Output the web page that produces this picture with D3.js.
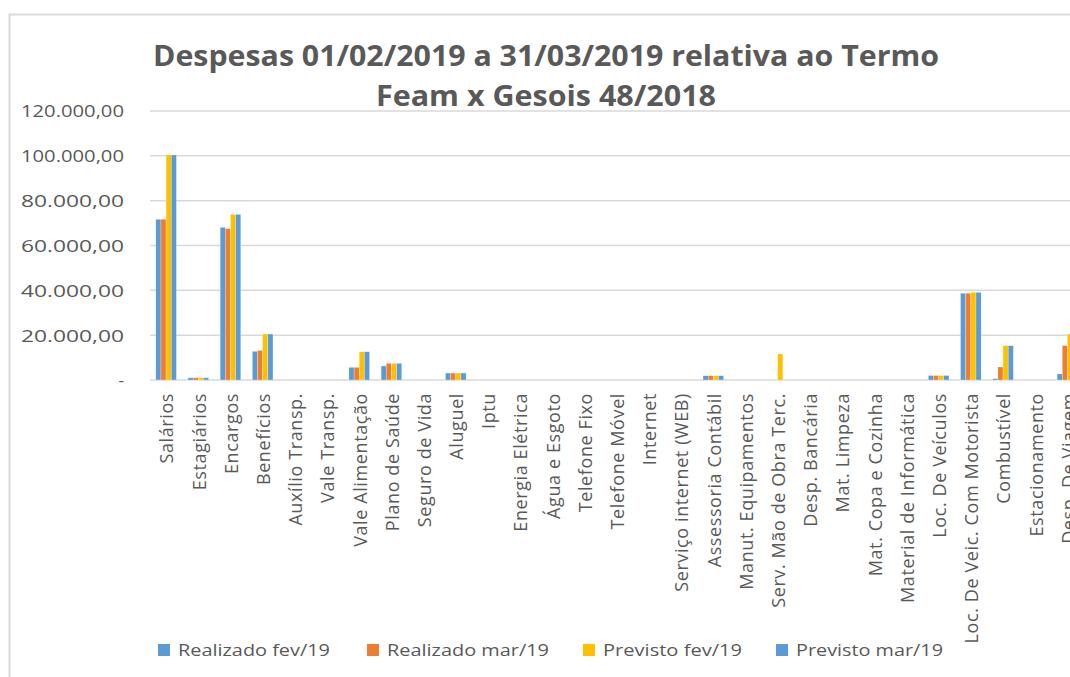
<!DOCTYPE html>
<html>
<head>
<meta charset="utf-8">
<script src="https://cdn.jsdelivr.net/npm/d3@7"></script>
<style>
  html, body { margin: 0; padding: 0; background: #fff; overflow: hidden; }
  svg { display: block; }
  text { font-family: "Open Sans", "Noto Sans", sans-serif; }
</style>
</head>
<body>
<svg id="chart" width="1070" height="677"></svg>
<script>
const titleLines = ["Despesas 01/02/2019 a 31/03/2019 relativa ao Termo", "Feam x Gesois 48/2018"];

const categories = [
  "Salários", "Estagiários", "Encargos", "Benefícios", "Auxílio Transp.", "Vale Transp.",
  "Vale Alimentação", "Plano de Saúde", "Seguro de Vida", "Aluguel", "Iptu", "Energia Elétrica",
  "Água e Esgoto", "Telefone Fixo", "Telefone Móvel", "Internet", "Serviço internet (WEB)",
  "Assessoria Contábil", "Manut. Equipamentos", "Serv. Mão de Obra Terc.", "Desp. Bancária",
  "Mat. Limpeza", "Mat. Copa e Cozinha", "Material de Informática", "Loc. De Veículos",
  "Loc. De Veic. Com Motorista", "Combustível", "Estacionamento", "Desp. De Viagem"
];

const seriesNames = ["Realizado fev/19", "Realizado mar/19", "Previsto fev/19", "Previsto mar/19"];
const seriesColors = ["#5B9BD5", "#ED7D31", "#FFC000", "#5B9BD5"];

//                     Sal    Est   Enc    Ben    AuxT VT  ValeA  Plano  Seg Alug  Iptu En Ag TF TM Int Web Ass  Man Serv  DB ML MC MI LocV  LocM   Comb  Est Viag
const realizadoFev = [71700, 1000, 68100, 12800, 0, 0, 5650, 6250, 0, 3100, 0, 0, 0, 0, 0, 0, 0, 1900, 0, 0,     0, 0, 0, 0, 2000, 38700, 600,   0, 2700];
const realizadoMar = [71700, 1000, 67500, 13200, 0, 0, 5650, 7450, 0, 3100, 0, 0, 0, 0, 0, 0, 0, 1900, 0, 0,     0, 0, 0, 0, 2000, 38700, 5800,  0, 15300];
const previstoFev  = [100400, 1000, 73900, 20500, 0, 0, 12600, 7450, 0, 3100, 0, 0, 0, 0, 0, 0, 0, 1900, 0, 11600, 0, 0, 0, 0, 2000, 39100, 15300, 0, 20500];
const previstoMar  = [100400, 1000, 73900, 20500, 0, 0, 12600, 7450, 0, 3100, 0, 0, 0, 0, 0, 0, 0, 1900, 0, 0,     0, 0, 0, 0, 2000, 39100, 15300, 0, 20500];

const yTicks = [0, 20000, 40000, 60000, 80000, 100000, 120000];

const seriesValues = [realizadoFev, realizadoMar, previstoFev, previstoMar];
const rows = categories.map((c, i) => ({ cat: c, vals: seriesValues.map(s => s[i]) }));

const svg = d3.select("#chart");
const textColor = "#595959";
const gridColor = "#D9D9D9";

// chart frame (extends beyond the visible window on right/bottom)
svg.append("rect")
  .attr("x", 9.5).attr("y", 14.5)
  .attr("width", 1200).attr("height", 800)
  .attr("fill", "none").attr("stroke", gridColor).attr("stroke-width", 2);

// title
const titleSpecs = [{ y: 66, len: 786 }, { y: 106, len: 340 }];
svg.selectAll("text.title").data(titleLines).join("text")
  .attr("class", "title")
  .attr("x", 546)
  .attr("y", (d, i) => titleSpecs[i].y)
  .attr("text-anchor", "middle")
  .attr("font-size", 28)
  .attr("font-weight", "bold")
  .attr("fill", textColor)
  .attr("textLength", (d, i) => titleSpecs[i].len)
  .attr("lengthAdjust", "spacingAndGlyphs")
  .text(d => d);

// scales
const plotLeft = 150, plotTop = 111, plotBottom = 380;
const bandW = 32.19;
const x0 = d3.scaleBand().domain(categories).range([plotLeft, plotLeft + bandW * categories.length]).padding(0);
const groupW = x0.bandwidth() * 0.64;
const x1 = d3.scaleBand().domain(d3.range(4)).range([0, groupW]).padding(0);
const y = d3.scaleLinear().domain([0, 120000]).range([plotBottom, plotTop]);

// gridlines
svg.append("g").selectAll("line").data(yTicks).join("line")
  .attr("x1", plotLeft).attr("x2", 1100)
  .attr("y1", d => y(d)).attr("y2", d => y(d))
  .attr("stroke", gridColor).attr("stroke-width", 1.5);

// y axis
const locale = d3.formatLocale({ decimal: ",", thousands: ".", grouping: [3], currency: ["R$", ""] });
const fmt = locale.format(",.2f");
const yAxis = d3.axisLeft(y).tickValues(yTicks).tickSize(0).tickPadding(0)
  .tickFormat(d => d === 0 ? "-" : fmt(d));
const yg = svg.append("g").attr("transform", "translate(124,0)").call(yAxis);
yg.select(".domain").remove();
yg.selectAll("text")
  .attr("font-family", "'Open Sans', sans-serif")
  .attr("font-size", 17)
  .attr("fill", textColor)
  .attr("dy", "0.35em")
  .each(function(d) {
    if (d !== 0) d3.select(this).attr("textLength", 103).attr("lengthAdjust", "spacingAndGlyphs");
  });

// bars
const groups = svg.append("g").selectAll("g").data(rows).join("g")
  .attr("transform", d => `translate(${x0(d.cat) + (x0.bandwidth() - groupW) / 2},0)`);
groups.selectAll("rect").data(d => d.vals.map((v, k) => ({ v, k }))).join("rect")
  .filter(d => d.v > 0)
  .attr("x", d => x1(d.k))
  .attr("y", d => y(d.v))
  .attr("width", x1.bandwidth())
  .attr("height", d => plotBottom - y(d.v))
  .attr("fill", d => seriesColors[d.k])
  .attr("stroke", "#fff").attr("stroke-opacity", 0.5).attr("stroke-width", 0.5);

// x axis labels
const xAxis = d3.axisBottom(x0).tickSize(0).tickPadding(0);
const xg = svg.append("g").attr("transform", `translate(0,${plotBottom})`).call(xAxis);
xg.select(".domain").remove();
xg.selectAll("text")
  .attr("font-family", "'Open Sans', sans-serif")
  .attr("font-size", 18)
  .attr("letter-spacing", "0.6px")
  .attr("fill", textColor)
  .attr("text-anchor", "end")
  .attr("transform", "translate(1,13) rotate(-90)")
  .attr("x", 0).attr("y", 0)
  .attr("dy", "0.35em");

// legend
const legendSpecs = [
  { sx: 158, len: 152 }, { sx: 367, len: 162 }, { sx: 583, len: 139 }, { sx: 776, len: 147 }
];
const lg = svg.append("g").selectAll("g").data(seriesNames).join("g")
  .attr("transform", (d, i) => `translate(${legendSpecs[i].sx},650)`);
lg.append("rect")
  .attr("x", 0).attr("y", -6).attr("width", 12).attr("height", 12)
  .attr("fill", (d, i) => seriesColors[i]);
lg.append("text")
  .attr("x", 20).attr("y", 0).attr("dy", "0.35em")
  .attr("font-size", 17)
  .attr("fill", textColor)
  .attr("textLength", (d, i) => legendSpecs[i].len)
  .attr("lengthAdjust", "spacingAndGlyphs")
  .text(d => d);
</script>
</body>
</html>
